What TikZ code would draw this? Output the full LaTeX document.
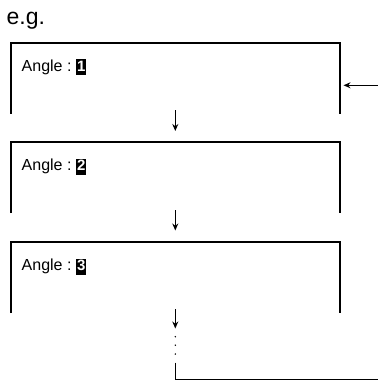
\documentclass[tikz,border=0pt]{standalone}
\usepackage{fontspec}
\setmainfont{Liberation Sans}
\usetikzlibrary{arrows.meta}
\begin{document}
\begin{tikzpicture}[x=1pt,y=-1pt,
  boxline/.style={line width=2.2pt},
  conn/.style={line width=1.5pt},
  arr/.style={conn,-{Stealth[length=7pt,width=6pt]}},
  lbl/.style={anchor=base west,inner sep=0pt,font=\fontsize{16}{19}\selectfont},
  numbox/.style={fill=black,text=white,inner sep=0pt,minimum width=10pt,text height=12pt,text depth=4pt,anchor=base west,font=\bfseries\fontsize{15}{18}\selectfont},
  dotty/.style={fill=black,circle,inner sep=0pt,minimum size=1.6pt}]
\useasboundingbox (0,0) rectangle (378,381);
\node[anchor=base west,inner sep=0pt,font=\fontsize{23}{27}\selectfont] (eg) at (6.5,24.3) {e.g.};
\foreach \i/\t in {1/42.7,2/142.2,3/242.2}{
  \coordinate (bl\i) at (11,\t+71);
  \coordinate (tl\i) at (11,\t);
  \coordinate (tr\i) at (340,\t);
  \coordinate (br\i) at (340,\t+71);
  \draw[boxline] (bl\i) -- (tl\i) -- (tr\i) -- (br\i);
  \node[lbl] (a\i) at (21.5,\t+28.5) {Angle :};
  \node[numbox] (n\i) at (76,\t+28.5) {\i};
}
\coordinate (in1) at (378,85.3);
\coordinate (in2) at (343.5,85.3);
\draw[arr] (in1) -- (in2);
\coordinate (s1) at (175.3,110);
\coordinate (e1) at (175.3,131);
\draw[arr] (s1) -- (e1);
\coordinate (s2) at (175.3,210);
\coordinate (e2) at (175.3,230.5);
\draw[arr] (s2) -- (e2);
\coordinate (s3) at (175.3,309.3);
\coordinate (e3) at (175.3,328.5);
\draw[arr] (s3) -- (e3);
\node[dotty] (d1) at (175.3,336.7) {};
\node[dotty] (d2) at (175.3,345.2) {};
\node[dotty] (d3) at (175.3,354) {};
\coordinate (r1) at (175.3,362.7);
\coordinate (r2) at (175.3,379.6);
\coordinate (r3) at (378,379.6);
\draw[conn] (r1) -- (r2) -- (r3);
\end{tikzpicture}
\end{document}
